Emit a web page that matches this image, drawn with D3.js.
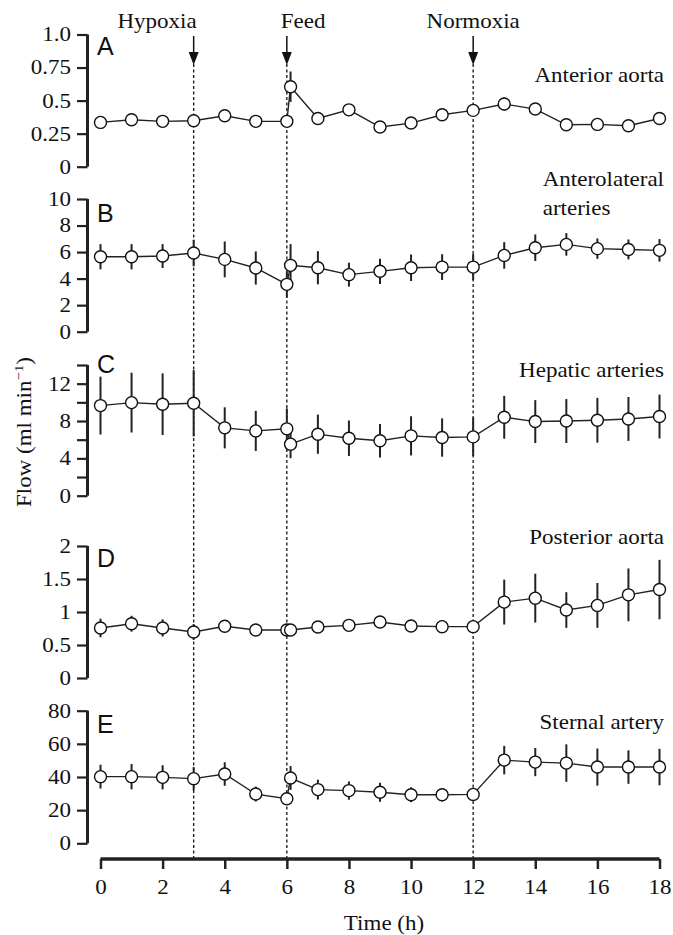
<!DOCTYPE html>
<html><head><meta charset="utf-8">
<script src="https://cdn.jsdelivr.net/npm/d3@7"></script>
<style>
html,body{margin:0;padding:0;background:#fff;}
svg text{font-family:"Liberation Serif","Times New Roman",serif;fill:#111;}
</style></head>
<body><svg id="chart" width="673" height="935"></svg>
<script>
// ---- data ----
const hours = [0,1,2,3,4,5,6,6.12,7,8,9,10,11,12,13,14,15,16,17,18];
const xTicks = [0,2,4,6,8,10,12,14,16,18];

const aortaAntMean = [0.335,0.355,0.343,0.348,0.385,0.343,0.343,0.605,0.365,0.43,0.30,0.33,0.393,0.426,0.474,0.436,0.317,0.32,0.31,0.365];
const aortaAntErr  = [0.015,0.015,0.015,0.015,0.02,0.015,0.015,0.115,0.015,0.02,0.015,0.015,0.02,0.04,0.05,0.02,0.015,0.015,0.015,0.02];

const anterolatMean = [5.65,5.65,5.7,5.93,5.45,4.8,3.57,5.0,4.82,4.3,4.55,4.82,4.87,4.87,5.75,6.33,6.58,6.26,6.2,6.13];
const anterolatErr  = [0.95,0.95,0.9,1.0,1.35,1.25,1.0,1.6,1.25,0.9,0.95,1.0,0.97,0.98,1.0,1.0,0.85,0.77,0.75,0.85];

const hepaticMean = [9.65,9.97,9.8,9.9,7.27,6.94,7.16,5.52,6.59,6.16,5.88,6.41,6.23,6.3,8.4,7.94,8.0,8.08,8.22,8.48];
const hepaticErr  = [3.1,3.2,3.3,3.55,2.2,2.15,2.2,1.5,2.1,1.9,1.8,2.1,2.05,2.05,2.3,2.3,2.35,2.4,2.35,2.35];

const aortaPostMean = [0.758,0.823,0.758,0.697,0.783,0.727,0.727,0.727,0.773,0.798,0.848,0.788,0.778,0.778,1.15,1.21,1.03,1.10,1.26,1.34];
const aortaPostErr  = [0.14,0.12,0.13,0.12,0.09,0.07,0.07,0.07,0.08,0.06,0.08,0.09,0.1,0.1,0.34,0.37,0.27,0.34,0.4,0.45];

const sternalMean = [40.2,40.2,39.8,39.0,41.8,29.7,26.9,39.4,32.4,31.8,30.8,29.3,29.3,29.5,50.2,49.0,48.4,46.0,46.0,46.0];
const sternalErr  = [7.2,7.6,7.3,7,7.1,4.5,3,7.2,6,5.5,5.7,4.5,4,4,8.6,8.5,11.3,11.2,10.1,11];

const panelLetters = ["A","B","C","D","E"];
const panelTitles = [["Anterior aorta"],["Anterolateral","arteries"],["Hepatic arteries"],["Posterior aorta"],["Sternal artery"]];
const yMax = [1.0,10,14,2,80];
const yTickVals = [[0,0.25,0.5,0.75,1.0],[0,2,4,6,8,10],[0,2,4,6,8,10,12,14],[0,0.5,1,1.5,2],[0,20,40,60,80]];
const yTickLabels = [["0","0.25","0.5","0.75","1.0"],["0","2","4","6","8","10"],["0","","4","","8","","12",""],["0","0.5","1","1.5","2"],["0","20","40","60","80"]];
const means = [aortaAntMean, anterolatMean, hepaticMean, aortaPostMean, sternalMean];
const errs  = [aortaAntErr, anterolatErr, hepaticErr, aortaPostErr, sternalErr];

const events = [{t:3,label:"Hypoxia",anchor:"end",dx:3},{t:6,label:"Feed",anchor:"start",dx:-6},{t:12,label:"Normoxia",anchor:"middle",dx:0}];

// ---- layout ----
const SX = 1.15; // horizontal text stretch
const svg = d3.select("#chart");
const x = d3.scaleLinear().domain([0,18]).range([100.5,659.5]);
const axisX = 87.5;
const panelTop = [34.5,199,365,546,710.7];
const panelBot = [166.7,331.7,495.7,678,843.3];
const letterY = [55,222,373,567,733];
const titleY = [[82],[186,215],[377],[544],[729]];
const xAxisY = 859;

function stext(g, str, px, py, anchor, size){
  return g.append("text").attr("transform",`translate(${px},${py}) scale(${SX},1)`)
    .attr("text-anchor",anchor).attr("font-size",size).text(str);
}

// event lines & arrows
events.forEach(e=>{
  const ex = x(e.t);
  svg.append("line").attr("x1",ex).attr("x2",ex).attr("y1",64).attr("y2",xAxisY)
    .attr("stroke","#222").attr("stroke-width",1.4).attr("stroke-dasharray","3,2.5");
  svg.append("line").attr("x1",ex).attr("x2",ex).attr("y1",36).attr("y2",55)
    .attr("stroke","#111").attr("stroke-width",1.5);
  svg.append("path").attr("d",`M${ex-5},52 L${ex+5},52 L${ex},65 Z`).attr("fill","#111");
  stext(svg, e.label, ex+e.dx, 28, e.anchor, 20);
});

// panels
for(let i=0;i<5;i++){
  const y = d3.scaleLinear().domain([0,yMax[i]]).range([panelBot[i],panelTop[i]]);
  const g = svg.append("g");
  const ax = g.append("g").attr("transform",`translate(${axisX},0)`)
    .call(d3.axisLeft(y).tickValues(yTickVals[i]).tickSize(10.5).tickPadding(6)
      .tickFormat((d,k)=>yTickLabels[i][k]));
  ax.select(".domain").attr("stroke","#222").attr("stroke-width",3)
    .attr("d",`M-0,${panelTop[i]}V${panelBot[i]}`);
  ax.selectAll(".tick line").attr("stroke","#222").attr("stroke-width",2.2);
  ax.selectAll(".tick text").attr("font-family","Liberation Serif").attr("font-size",20).attr("fill","#111")
    .attr("x",null).attr("transform",`translate(-16.5,0) scale(${SX},1)`);

  g.append("text").attr("x",97).attr("y",letterY[i]).attr("font-size",25)
    .style("font-family","Liberation Sans, Arial, sans-serif").text(panelLetters[i]);

  const tl = panelTitles[i];
  if(tl.length===1){
    stext(g, tl[0], 664, titleY[i][0], "end", 20);
  } else {
    const t1 = stext(g, tl[0], 664, titleY[i][0], "end", 20);
    const w = t1.node().getComputedTextLength()*SX;
    stext(g, tl[1], 664-w, titleY[i][1], "start", 20);
  }

  const data = hours.map((h,k)=>({h, m:means[i][k], e:errs[i][k]}));
  g.selectAll(".err").data(data).enter().append("line")
    .attr("x1",d=>x(d.h)).attr("x2",d=>x(d.h))
    .attr("y1",d=>y(d.m+d.e)).attr("y2",d=>y(Math.max(0,d.m-d.e)))
    .attr("stroke","#222").attr("stroke-width",2);
  g.append("path").datum(data)
    .attr("d",d3.line().x(d=>x(d.h)).y(d=>y(d.m)))
    .attr("fill","none").attr("stroke","#222").attr("stroke-width",1.4);
  g.selectAll(".pt").data(data).enter().append("circle")
    .attr("cx",d=>x(d.h)).attr("cy",d=>y(d.m)).attr("r",6)
    .attr("fill","#fff").attr("stroke","#111").attr("stroke-width",1.4);
}

// x axis
const xa = svg.append("g").attr("transform",`translate(0,${xAxisY})`)
  .call(d3.axisBottom(x).tickValues(xTicks).tickSize(10).tickPadding(11).tickFormat(d3.format("d")));
xa.select(".domain").attr("stroke","#222").attr("stroke-width",3.5).attr("d",`M${x(0)},0H${x(18)}`);
xa.selectAll(".tick line").attr("stroke","#222").attr("stroke-width",2.5);
xa.selectAll(".tick text").attr("font-family","Liberation Serif").attr("font-size",20).attr("fill","#111")
  .attr("transform",`scale(${SX},1)`);

stext(svg, "Time (h)", 384, 930, "middle", 20);

// y label
const yl = svg.append("text").attr("transform",`translate(31,432) rotate(-90) scale(${SX},1)`)
  .attr("text-anchor","middle").attr("font-size",20);
yl.append("tspan").text("Flow (ml min");
yl.append("tspan").attr("font-size",13).attr("dy",-8).text("\u22121");
yl.append("tspan").attr("dy",8).text(")");
</script></body></html>
